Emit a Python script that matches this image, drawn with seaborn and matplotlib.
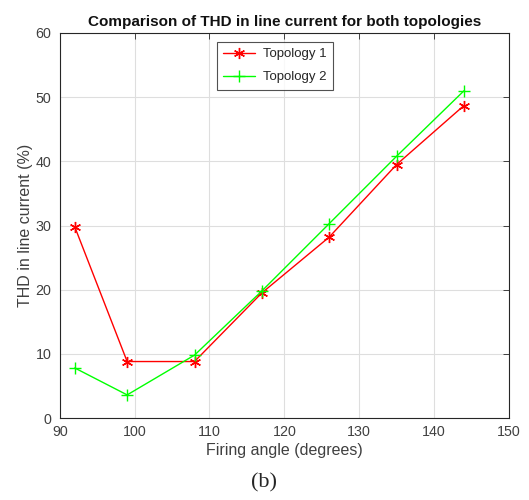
import pandas as pd
import seaborn as sns
import matplotlib.pyplot as plt

angles = [92, 99, 108, 117, 126, 135, 144]
topology1 = [29.8, 8.8, 8.8, 19.5, 28.2, 39.5, 48.7]
topology2 = [7.8, 3.6, 9.8, 19.8, 30.3, 40.8, 51.0]
series_names = ['Topology 1', 'Topology 2']
colors = ['#ff0000', '#00ff00']
markers = [(6, 2, 0), '+']

sns.set_style('whitegrid', {'grid.color': '#dedede', 'axes.edgecolor': '#262626'})
plt.rcParams['font.family'] = ['Liberation Sans', 'DejaVu Sans']

fig = plt.figure(figsize=(5.29, 5.0), dpi=100)
ax = fig.add_axes([0.113, 0.164, 0.849, 0.770])

for name, vals, c, m in zip(series_names, [topology1, topology2], colors, markers):
    df = pd.DataFrame({'angle': angles, 'thd': vals})
    sns.lineplot(data=df, x='angle', y='thd', color=c, marker=m, label=name,
                 markersize=8, linewidth=1, markeredgewidth=1,
                 markeredgecolor=c, markerfacecolor=c, ax=ax)

ax.set_xlim(90, 150)
ax.set_ylim(0, 60)
ax.set_xticks(range(90, 151, 10))
ax.set_yticks(range(0, 61, 10))
ax.tick_params(labelsize=10.3, colors='#262626', labelcolor='#404040',
               direction='in', length=4, width=0.6, pad=5,
               top=True, right=True)
ax.tick_params(axis='y', pad=6)
for s in ax.spines.values():
    s.set_linewidth(0.8)
    s.set_color('#262626')

ax.set_xlabel('Firing angle (degrees)', fontsize=11.5, color='#404040', labelpad=3)
ax.set_ylabel('THD in line current (%)', fontsize=11.5, color='#404040', labelpad=2)
ax.set_title('Comparison of THD in line current for both topologies',
             fontsize=11, fontweight='bold', pad=5, color='#111111')

leg = ax.legend(loc='upper left', bbox_to_anchor=(0.335, 0.995), fontsize=9.5,
                frameon=True, fancybox=False, edgecolor='#262626',
                handlelength=2.4, handletextpad=0.6, borderpad=0.5,
                labelspacing=0.8)
leg.get_frame().set_linewidth(0.8)
for t in leg.get_texts():
    t.set_color('#262626')

fig.text(0.5, 0.035, '(b)', ha='center', va='center', fontsize=16,
         family=['Liberation Serif'])

fig.savefig('out.png', dpi=100)
